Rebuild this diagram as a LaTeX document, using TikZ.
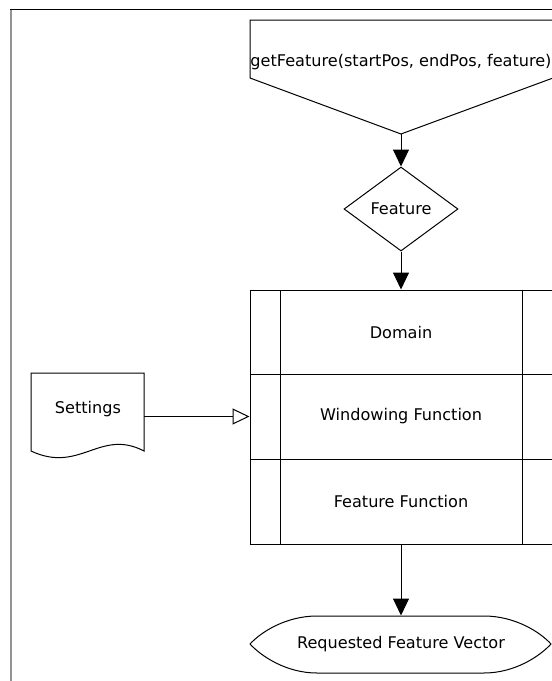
\documentclass[tikz,border=0pt]{standalone}
\usepackage{fontspec}
\setmainfont{DejaVu Sans}
\usetikzlibrary{shapes.geometric,arrows.meta}
\begin{document}
\begin{tikzpicture}[x=1pt,y=-1pt, line width=1pt,
  font=\fontsize{16.1}{19}\selectfont,
  arr/.style={-{Triangle[length=17pt,width=16pt]}},
  oarr/.style={-{Triangle[open,length=17pt,width=16pt,fill=white]}},
  lbl/.style={inner sep=0pt},
  cell/.style={draw, minimum width=302pt, inner sep=0pt}]
\useasboundingbox (0,0) rectangle (552,681);
\clip (0,0) rectangle (552,681);
\fill[white] (0,0) rectangle (552,681);
% frame
\draw[gray!85, line width=2pt] (10.5,9) -- (10.5,690);
\draw[black, line width=1pt] (10,9) -- (560,9);

% start (off-page connector)
\draw (250,20) -- (553,20) -- (553,78) -- (401,134) -- (250,78) -- cycle;
\node[lbl] (start) at (401,62) {getFeature(startPos, endPos, feature)};
\coordinate (starttip) at (401,134);

% decision
\node[draw, diamond, minimum width=114pt, minimum height=84pt, inner sep=0pt] (feat) at (401,209) {Feature};

% process box
\node[cell, minimum height=84pt] (dom) at (401,332) {Domain};
\node[cell, minimum height=85pt] (win) at (401,416.5) {Windowing Function};
\node[cell, minimum height=85pt] (ffn) at (401,501.5) {Feature Function};
\draw (280,290) -- (280,544);
\draw (522,290) -- (522,544);

% settings document
\draw (31,373) -- (144,373) -- (144,451)
  .. controls (100,428) and (80,474) .. (31,451) -- cycle;
\node[lbl] (settings) at (88,409) {Settings};
\coordinate (setout) at (144,416.5);

% output
\draw (317,616) -- (484,616) .. controls (515,616) and (540,632) .. (551,644)
  .. controls (540,656) and (515,673) .. (484,673) -- (317,673)
  .. controls (286,673) and (261,656) .. (250,644)
  .. controls (261,632) and (286,616) .. (317,616) -- cycle;
\node[minimum width=301pt, minimum height=57pt, inner sep=0pt] (out) at (401,644.5) {Requested Feature Vector};

% connectors
\draw[arr] (starttip) -- (feat.north);
\draw[arr] (feat.south) -- (dom.north);
\draw[arr] (ffn.south) -- (out.north);
\draw[oarr] (setout) -- (win.west);
\end{tikzpicture}
\end{document}
